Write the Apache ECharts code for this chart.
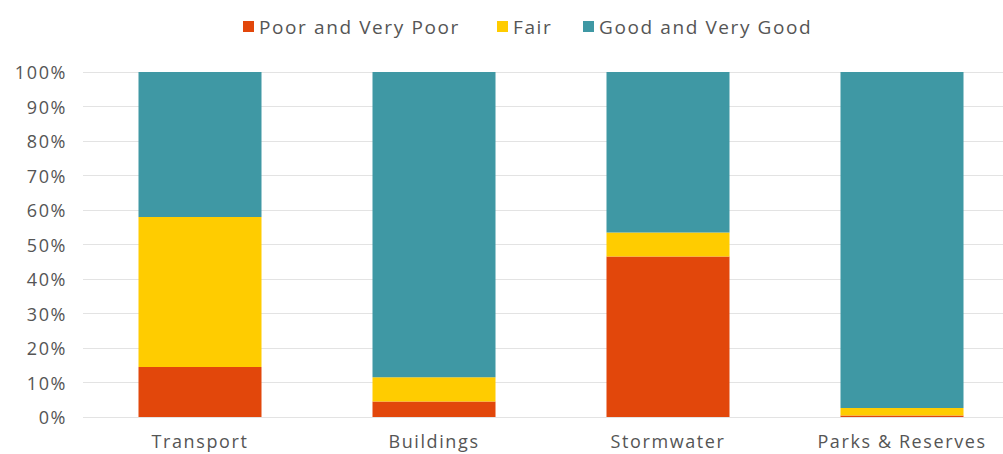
<!DOCTYPE html>
<html>
<head>
<meta charset="utf-8">
<script src="https://cdn.jsdelivr.net/npm/echarts@6/dist/echarts.min.js"></script>
<style>
  html, body { margin: 0; padding: 0; background: #ffffff; }
  #chart { width: 1003px; height: 454px; }
  /* wide, airy lettering for every label */
  #chart text { letter-spacing: 1.6px; }
</style>
</head>
<body>
<div id="chart"></div>
<script>
// Asset condition by class, share of each rating (%)
const categories = ['Transport', 'Buildings', 'Stormwater', 'Parks & Reserves'];
const poorValues = [14.5, 4.5, 46.5, 0.4];
const fairValues = [43.5, 7, 7, 2.2];
const goodValues = [42, 88.5, 46.5, 97.4];
const seriesNames = ['Poor and Very Poor', 'Fair', 'Good and Very Good'];
const colors = ['#E2470B', '#FFCC00', '#3F98A4'];

const chart = echarts.init(document.getElementById('chart'), null, { renderer: 'svg' });
const fontFamily = '"Open Sans", sans-serif';
const labelColor = '#555555';

function makeSeries(name, data, color) {
  return {
    name: name,
    type: 'bar',
    stack: 'total',
    barWidth: 123,
    data: data,
    itemStyle: { color: color },
    emphasis: { disabled: true }
  };
}

// one legend per entry so each sits at its own spot
const legendLefts = [238, 492, 578];
const legends = seriesNames.map((name, i) => ({
  data: [name],
  left: legendLefts[i],
  top: 12,
  itemWidth: 11,
  itemHeight: 11,
  itemGap: 0,
  icon: 'rect',
  selectedMode: false,
  textStyle: { fontSize: 19, color: labelColor, fontFamily: fontFamily }
}));

chart.setOption({
  animation: false,
  textStyle: { fontFamily: fontFamily },
  legend: legends,
  grid: { left: 83, right: -16, top: 72, bottom: 37, outerBoundsMode: 'none', containLabel: false },
  xAxis: {
    type: 'category',
    data: categories,
    axisLine: { show: false },
    axisTick: { show: false },
    axisLabel: { fontSize: 18, color: labelColor, margin: 15 }
  },
  yAxis: {
    type: 'value',
    min: 0,
    max: 100,
    interval: 10,
    axisLabel: { formatter: '{value}%', fontSize: 18, color: labelColor, margin: 16 },
    splitLine: { lineStyle: { color: '#e3e3e3', width: 1 } },
    axisLine: { show: false },
    axisTick: { show: false }
  },
  series: [
    makeSeries(seriesNames[0], poorValues, colors[0]),
    makeSeries(seriesNames[1], fairValues, colors[1]),
    makeSeries(seriesNames[2], goodValues, colors[2])
  ]
});
</script>
</body>
</html>
